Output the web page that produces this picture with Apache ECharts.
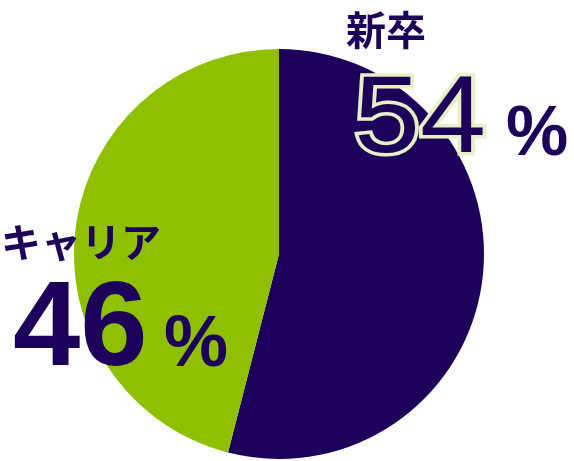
<!DOCTYPE html>
<html>
<head>
<meta charset="utf-8">
<script src="https://cdn.jsdelivr.net/npm/echarts@6/dist/echarts.min.js"></script>
<style>
html,body{margin:0;padding:0;background:#fff;}
#chart{width:574px;height:461px;}
</style>
</head>
<body>
<div id="chart"></div>
<script>
var categories = ['新卒', 'キャリア'];
var values = [54, 46];
var percentSign = '%';

var PURPLE = '#1d0059';
var GREEN = '#8fc000';
var OUTLINE = '#e6efc6';

var chart = echarts.init(document.getElementById('chart'));
var cjk = '"Noto Sans CJK JP", "Noto Sans", sans-serif';
var latin = '"Liberation Sans", Arial, sans-serif';

function txt(x, y, text, font, extra, scaleX) {
  var style = { text: text, font: font, fill: PURPLE, textAlign: 'left', textVerticalAlign: 'middle' };
  if (extra) { for (var k in extra) style[k] = extra[k]; }
  return { type: 'text', x: x, y: y, z: 100, zlevel: 1, scaleX: scaleX || 1, style: style };
}

chart.setOption({
  animation: false,
  backgroundColor: '#fff',
  series: [{
    type: 'pie',
    center: [279, 254],
    radius: 205,
    startAngle: 90,
    clockwise: true,
    label: { show: false },
    labelLine: { show: false },
    emphasis: { disabled: true },
    itemStyle: { borderWidth: 0 },
    data: categories.map(function (c, i) {
      return { name: c, value: values[i], itemStyle: { color: i === 0 ? PURPLE : GREEN } };
    })
  }],
  graphic: [
    txt(346, 30, categories[0], 'bold 40px ' + cjk),
    txt(354, 122, String(values[0]), '110px ' + latin, { stroke: OUTLINE, lineWidth: 7 }, 1.08),
    txt(506, 136, percentSign, 'bold 70px ' + latin),
    txt(1, 242, categories[1], 'bold 40px ' + cjk),
    txt(13, 332, String(values[1]), 'bold 121px ' + latin),
    txt(164, 346, percentSign, 'bold 72px ' + latin)
  ]
});
</script>
</body>
</html>
